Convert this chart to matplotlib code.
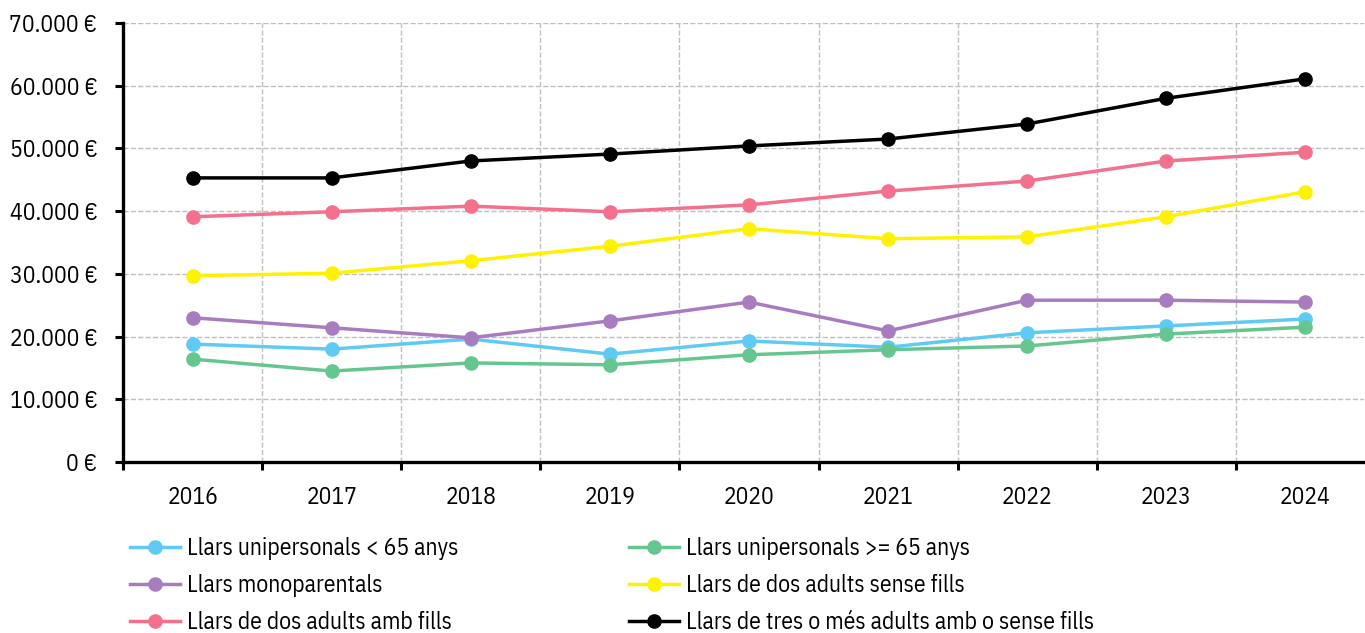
import matplotlib
matplotlib.use("Agg")
import matplotlib.pyplot as plt
from matplotlib import font_manager
from matplotlib.ticker import FuncFormatter, FixedLocator

years = ["2016", "2017", "2018", "2019", "2020", "2021", "2022", "2023", "2024"]

uni_menor65 = [18800, 18000, 19600, 17200, 19300, 18300, 20600, 21700, 22800]
uni_major65 = [16400, 14500, 15800, 15500, 17100, 17900, 18500, 20400, 21500]
monoparentals = [23000, 21400, 19800, 22500, 25500, 20900, 25800, 25800, 25500]
dos_sense_fills = [29700, 30100, 32100, 34400, 37200, 35600, 35900, 39100, 43100]
dos_amb_fills = [39100, 39900, 40800, 39900, 41000, 43200, 44800, 48000, 49400]
tres_o_mes = [45300, 45300, 48000, 49100, 50400, 51500, 53900, 58000, 61100]

labels = ["Llars unipersonals < 65 anys", "Llars unipersonals >= 65 anys",
          "Llars monoparentals", "Llars de dos adults sense fills",
          "Llars de dos adults amb fills", "Llars de tres o més adults amb o sense fills"]
colors = ["#5FCBF4", "#66C68F", "#A97BBF", "#FFF200", "#F5708D", "#000000"]
series = [uni_menor65, uni_major65, monoparentals, dos_sense_fills, dos_amb_fills, tres_o_mes]

# pick a narrow font if there is one
installed = set(f.name for f in font_manager.fontManager.ttflist)
font = 'Roboto'
for cand in ['IBM Plex Sans Condensed', 'Roboto Condensed', 'Liberation Sans Narrow',
             'DejaVu Sans Condensed', 'Open Sans Condensed']:
    if cand in installed:
        font = cand
        break
plt.rcParams['font.family'] = [font, 'DejaVu Sans']
fs = 17

fig = plt.figure(figsize=(13.65, 6.33), dpi=100)
ax = fig.add_axes([123 / 1365, 1 - 462 / 633, (1364 - 123) / 1365, (462 - 23) / 633])

x = list(range(len(years)))
lines = {}
for s, lab, c in zip(series, labels, colors):
    lines[lab], = ax.plot(x, s, '-o', color=c, lw=2.5, markersize=9.5, label=lab, zorder=3)

ax.yaxis.set_major_locator(FixedLocator(range(0, 70001, 10000)))
ax.yaxis.set_major_formatter(FuncFormatter(lambda v, p: "{:,.0f} €".format(v).replace(",", ".")))

# labels at category centres, tick marks + grid at boundaries
ax.set_xticks(x)
ax.set_xticklabels(years)
ax.set_xticks([i + 0.5 for i in range(-1, len(years))], minor=True)
ax.set_ylim(0, 70000)
ax.set_xlim(-0.5, -0.5 + (1364 - 123) / 139.1)
ax.tick_params(axis='x', which='major', length=0, pad=17, labelsize=fs)
ax.tick_params(axis='x', which='minor', length=6, width=2.2, direction='out')
ax.tick_params(axis='y', length=6, width=2.2, labelsize=fs, pad=12.5)

ax.grid(axis='y', which='major', ls='--', color='#BFBFBF', lw=1)
ax.grid(axis='x', which='minor', ls='--', color='#BFBFBF', lw=1)
ax.set_axisbelow(True)

for sp in ['top', 'right']:
    ax.spines[sp].set_visible(False)
ax.spines['left'].set_linewidth(2.4)
ax.spines['bottom'].set_linewidth(2.4)

order = [0, 2, 4, 1, 3, 5]
handles = [lines[labels[i]] for i in order]
fig.legend(handles, [labels[i] for i in order], ncol=2, loc='upper left',
           bbox_to_anchor=(130 / 1365, 1 - 537 / 633), frameon=False, fontsize=fs,
           handlelength=2.12, handletextpad=0.3, columnspacing=7.2, labelspacing=0.6,
           borderpad=0, borderaxespad=0)

plt.savefig("out.png", dpi=100)
plt.close()
